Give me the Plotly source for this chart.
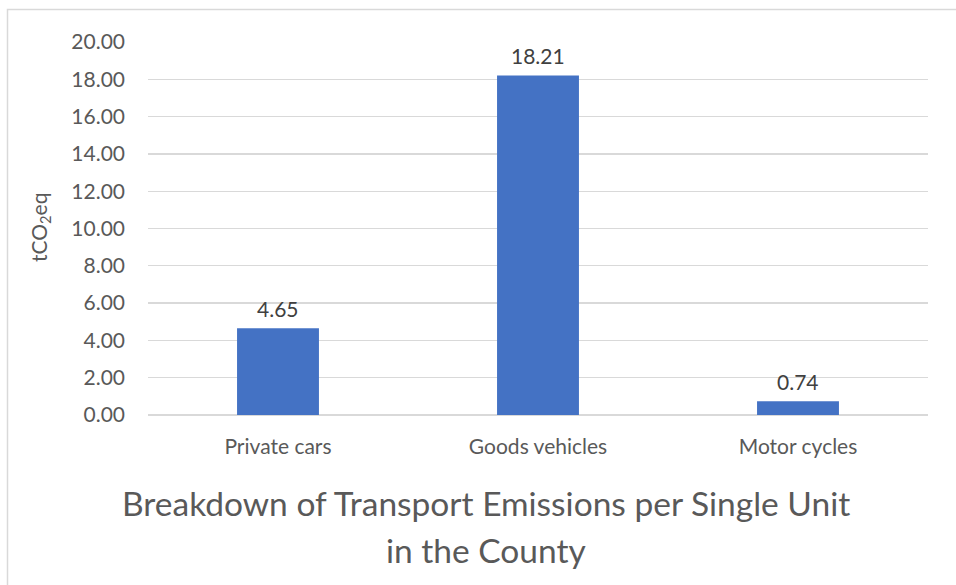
import plotly.graph_objects as go

categories = ["Private cars", "Goods vehicles", "Motor cycles"]
values = [4.65, 18.21, 0.74]
tick_vals = [0, 2, 4, 6, 8, 10, 12, 14, 16, 18, 20]
tick_text = [f"{v:.2f}" for v in tick_vals]
title_lines = ["Breakdown of Transport Emissions per Single Unit", "in the County"]

W, H = 956, 585
L, R, T, B = 148, 28, 42, 170
pw, ph = W - L - R, H - T - B

def px_x(x):
    return (x - L) / pw

def px_y(y):
    return (H - B - y) / ph

FONT = "Lato"

fig = go.Figure()
fig.add_trace(go.Bar(
    x=categories, y=values,
    marker=dict(color="#4472C4", line=dict(width=0)),
    width=0.315,
    hoverinfo="skip",
))

annotations = []
for c, v in zip(categories, values):
    annotations.append(dict(
        x=c, y=v, xref="x", yref="y", text=f"{v:.2f}", showarrow=False,
        yanchor="bottom", yshift=5, font=dict(family=FONT, size=21, color="#404040"),
    ))
annotations.append(dict(
    x=px_x(486), y=px_y(503), xref="paper", yref="paper", text=title_lines[0],
    showarrow=False, xanchor="center", yanchor="middle",
    font=dict(family=FONT, size=33.5, color="#595959"),
))
annotations.append(dict(
    x=px_x(486), y=px_y(550), xref="paper", yref="paper", text=title_lines[1],
    showarrow=False, xanchor="center", yanchor="middle",
    font=dict(family=FONT, size=33.5, color="#595959"),
))
annotations.append(dict(
    x=px_x(40), y=px_y(228), xref="paper", yref="paper", text="tCO<sub>2</sub>eq",
    showarrow=False, textangle=-90, xanchor="center", yanchor="middle",
    font=dict(family=FONT, size=21, color="#595959"),
))

fig.update_layout(
    width=W, height=H,
    margin=dict(l=L, r=R, t=T, b=B, autoexpand=False),
    paper_bgcolor="white", plot_bgcolor="white",
    showlegend=False,
    annotations=annotations,
    shapes=[dict(
        type="rect", xref="paper", yref="paper",
        x0=px_x(7.5), x1=px_x(970), y0=px_y(9.5), y1=px_y(600),
        line=dict(color="#d9d9d9", width=1.5), fillcolor="rgba(0,0,0,0)", layer="below",
    )],
)
fig.update_xaxes(
    showgrid=False, showline=False, zeroline=False, ticks="",
    tickfont=dict(family=FONT, size=21, color="#595959"),
    ticklabelstandoff=17,
)
fig.update_yaxes(
    range=[0, 20], tickvals=tick_vals, ticktext=tick_text,
    showgrid=True, gridcolor="#d9d9d9", gridwidth=1.3,
    zeroline=True, zerolinecolor="#d9d9d9", zerolinewidth=1.3,
    showline=False, ticks="",
    tickfont=dict(family=FONT, size=21, color="#595959"),
    ticklabelstandoff=22,
)

fig.write_html(
    "out.html",
    config={"displayModeBar": False, "staticPlot": True},
    post_script="document.body.style.margin='0';document.body.style.overflow='hidden';",
)
